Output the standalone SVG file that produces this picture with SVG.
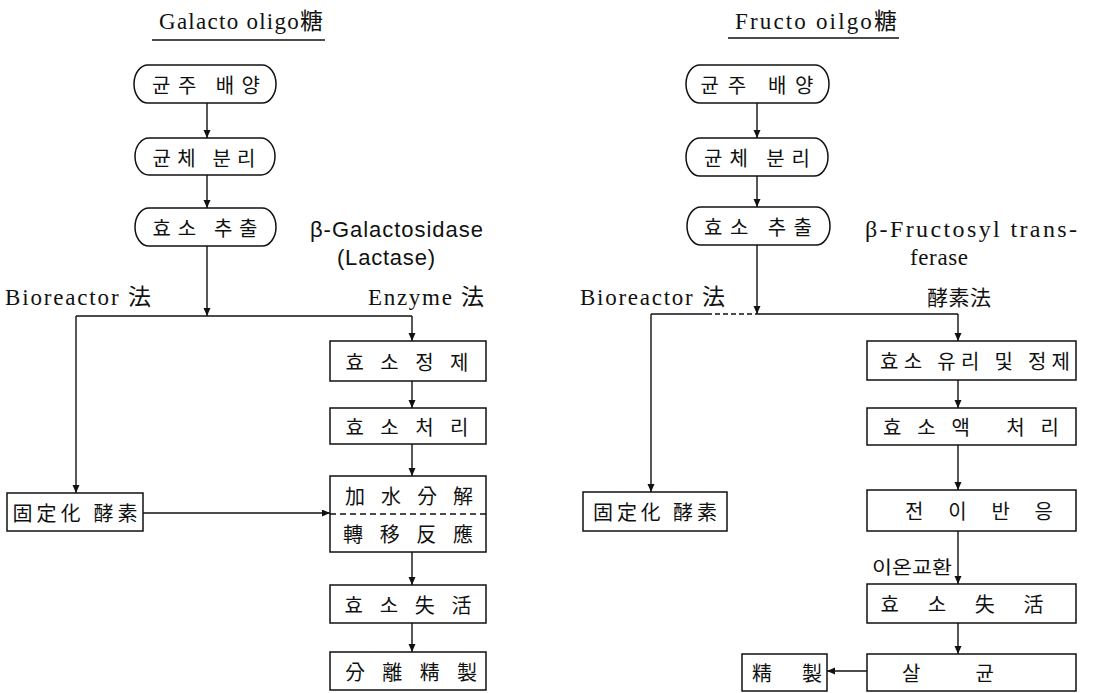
<svg xmlns="http://www.w3.org/2000/svg" width="1095" height="693" viewBox="0 0 1095 693">
<defs>
<style>
.ln{stroke:#111;stroke-width:1.4;fill:none}
.bx{stroke:#111;stroke-width:1.5;fill:#fff}
.k{font-family:"Noto Sans CJK KR",sans-serif;font-size:20px;fill:#111;text-anchor:middle;dominant-baseline:central}
.s{font-family:"Liberation Serif","Noto Sans CJK KR",serif;font-size:23px;fill:#111}
.g{font-family:"Liberation Sans","Noto Sans CJK KR",sans-serif;font-size:22px;fill:#111}
</style>
<marker id="ar" markerUnits="userSpaceOnUse" markerWidth="9" markerHeight="8" refX="8" refY="3.5" orient="auto">
<path d="M0,0 L8,3.5 L0,7 z" fill="#111"/>
</marker>
</defs>
<rect width="1095" height="693" fill="#fff"/>

<g id="titles">
<text class="s" x="159" y="29" textLength="164" lengthAdjust="spacing">Galacto oligo糖</text>
<line class="ln" x1="152" y1="40" x2="325" y2="40" stroke-width="2"/>
<text class="s" x="735" y="29" textLength="162" lengthAdjust="spacing">Fructo oilgo糖</text>
<line class="ln" x1="728" y1="38" x2="899" y2="38" stroke-width="2"/>
</g>

<g id="labels">
<text class="g" x="310" y="237" textLength="173" lengthAdjust="spacing">β-Galactosidase</text>
<text class="g" x="337" y="265" textLength="98" lengthAdjust="spacing">(Lactase)</text>
<text class="s" x="5" y="305" textLength="146" lengthAdjust="spacing">Bioreactor 法</text>
<text class="s" x="368" y="305" textLength="116" lengthAdjust="spacing">Enzyme 法</text>
<text class="s" x="865" y="237" style="font-size:24px" textLength="212" lengthAdjust="spacing">β-Fructosyl trans-</text>
<text class="s" x="910" y="265" textLength="58" lengthAdjust="spacing">ferase</text>
<text class="s" x="580" y="305" textLength="145" lengthAdjust="spacing">Bioreactor 法</text>
<text class="s" x="927" y="305" style="font-size:21px" textLength="64" lengthAdjust="spacing">酵素法</text>
<text class="k" x="912" y="566" style="font-size:18px" textLength="80" lengthAdjust="spacingAndGlyphs">이온교환</text>
</g>

<g id="L-pill1"><rect class="bx" x="134" y="65" width="142" height="38" rx="14" ry="19"/><text class="k" x="206" y="84" textLength="108" lengthAdjust="spacing">균주 배양</text></g>
<g id="L-pill2"><rect class="bx" x="135" y="138" width="140" height="37" rx="14" ry="18.5"/><text class="k" x="204" y="157" textLength="103" lengthAdjust="spacing">균체 분리</text></g>
<g id="L-pill3"><rect class="bx" x="135" y="208" width="141" height="38" rx="14" ry="19"/><text class="k" x="205" y="227" textLength="105" lengthAdjust="spacing">효소 추출</text></g>

<g id="L-box1"><rect class="bx" x="330" y="341" width="156" height="40"/><text class="k" x="407" y="361" textLength="123" lengthAdjust="spacing">효소정제</text></g>
<g id="L-box2"><rect class="bx" x="330" y="408" width="156" height="36"/><text class="k" x="407" y="426" textLength="123" lengthAdjust="spacing">효소처리</text></g>
<g id="L-box3"><rect class="bx" x="330" y="476" width="156" height="76"/><line class="ln" x1="330" y1="514" x2="486" y2="514" stroke-dasharray="6 4"/><text class="k" x="409" y="495" textLength="128" lengthAdjust="spacing">加水分解</text><text class="k" x="408" y="533" textLength="130" lengthAdjust="spacing">轉移反應</text></g>
<g id="L-box4"><rect class="bx" x="330" y="585" width="156" height="38"/><text class="k" x="408" y="604" textLength="127" lengthAdjust="spacing">효소失活</text></g>
<g id="L-box5"><rect class="bx" x="330" y="652" width="156" height="38"/><text class="k" x="411" y="671" textLength="132" lengthAdjust="spacing">分離精製</text></g>
<g id="L-imm"><rect class="bx" x="7" y="493" width="136" height="38"/><text class="k" x="75" y="512" textLength="125" lengthAdjust="spacing">固定化 酵素</text></g>

<g id="R-pill1"><rect class="bx" x="686" y="65" width="143" height="38" rx="14" ry="19"/><text class="k" x="757" y="84" textLength="113" lengthAdjust="spacing">균주 배양</text></g>
<g id="R-pill2"><rect class="bx" x="686" y="138" width="142" height="38" rx="14" ry="19"/><text class="k" x="757" y="157" textLength="106" lengthAdjust="spacing">균체 분리</text></g>
<g id="R-pill3"><rect class="bx" x="687" y="207" width="143" height="38" rx="14" ry="19"/><text class="k" x="758" y="226" textLength="108" lengthAdjust="spacing">효소 추출</text></g>

<g id="R-box1"><rect class="bx" x="867" y="341" width="209" height="39"/><text class="k" x="975" y="360" textLength="190" lengthAdjust="spacing">효소 유리 및 정제</text></g>
<g id="R-box2"><rect class="bx" x="867" y="408" width="209" height="37"/><text class="k" x="971" y="426" textLength="176" lengthAdjust="spacing">효소액  처리</text></g>
<g id="R-box3"><rect class="bx" x="867" y="490" width="209" height="41"/><text class="k" x="979" y="510" textLength="148" lengthAdjust="spacing">전이반응</text></g>
<g id="R-box4"><rect class="bx" x="867" y="584" width="209" height="39"/><text class="k" x="962" y="603" textLength="163" lengthAdjust="spacing">효소失活</text></g>
<g id="R-box5"><rect class="bx" x="867" y="654" width="209" height="37"/><text class="k" x="948" y="672" textLength="92" lengthAdjust="spacing">살   균</text></g>
<g id="R-pure"><rect class="bx" x="742" y="654" width="85" height="37"/><text class="k" x="787" y="672" textLength="70" lengthAdjust="spacing">精  製</text></g>
<g id="R-imm"><rect class="bx" x="583" y="492" width="144" height="39"/><text class="k" x="655" y="511" textLength="124" lengthAdjust="spacing">固定化 酵素</text></g>

<g id="connectors">
<line class="ln" x1="207" y1="103" x2="207" y2="138" marker-end="url(#ar)"/>
<line class="ln" x1="207" y1="175" x2="207" y2="208" marker-end="url(#ar)"/>
<line class="ln" x1="207" y1="246" x2="207" y2="316" marker-end="url(#ar)"/>
<polyline class="ln" points="76,316 412,316"/>
<line class="ln" x1="76" y1="316" x2="76" y2="493" marker-end="url(#ar)"/>
<line class="ln" x1="412" y1="316" x2="412" y2="341" marker-end="url(#ar)"/>
<line class="ln" x1="412" y1="381" x2="412" y2="408" marker-end="url(#ar)"/>
<line class="ln" x1="412" y1="444" x2="412" y2="476" marker-end="url(#ar)"/>
<line class="ln" x1="143" y1="513" x2="330" y2="513" marker-end="url(#ar)"/>
<line class="ln" x1="412" y1="552" x2="412" y2="585" marker-end="url(#ar)"/>
<line class="ln" x1="412" y1="623" x2="412" y2="652" marker-end="url(#ar)"/>

<line class="ln" x1="757" y1="103" x2="757" y2="138" marker-end="url(#ar)"/>
<line class="ln" x1="757" y1="176" x2="757" y2="207" marker-end="url(#ar)"/>
<line class="ln" x1="757" y1="245" x2="757" y2="314" marker-end="url(#ar)"/>
<line class="ln" x1="651" y1="314" x2="707" y2="314"/>
<line class="ln" x1="707" y1="314" x2="757" y2="314" stroke-dasharray="5 3"/>
<line class="ln" x1="757" y1="314" x2="958" y2="314"/>
<line class="ln" x1="651" y1="314" x2="651" y2="492" marker-end="url(#ar)"/>
<line class="ln" x1="958" y1="314" x2="958" y2="341" marker-end="url(#ar)"/>
<line class="ln" x1="958" y1="380" x2="958" y2="408" marker-end="url(#ar)"/>
<line class="ln" x1="958" y1="445" x2="958" y2="490" marker-end="url(#ar)"/>
<line class="ln" x1="958" y1="531" x2="958" y2="584" marker-end="url(#ar)"/>
<line class="ln" x1="958" y1="623" x2="958" y2="654" marker-end="url(#ar)"/>
<line class="ln" x1="867" y1="671" x2="827" y2="671" marker-end="url(#ar)"/>
</g>
</svg>
